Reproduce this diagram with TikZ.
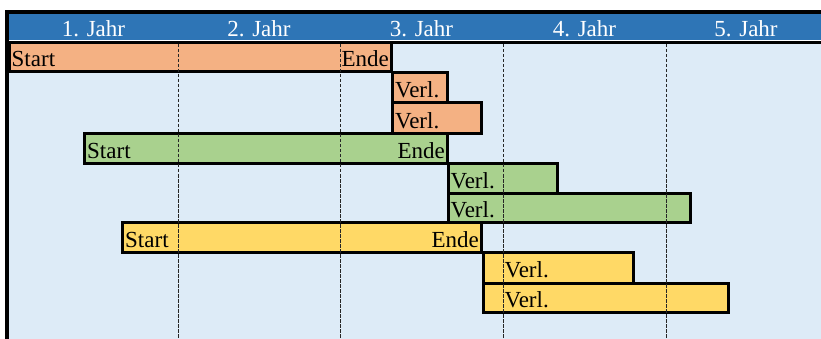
\documentclass[tikz,border=0pt]{standalone}
\usepackage{fontspec}
\setmainfont{Liberation Serif}
\usepackage{xcolor}
\definecolor{headblue}{HTML}{2E75B6}
\definecolor{paleblue}{HTML}{DDEBF7}
\definecolor{barorange}{HTML}{F4B183}
\definecolor{bargreen}{HTML}{A9D18E}
\definecolor{baryellow}{HTML}{FFD966}
\usetikzlibrary{positioning}

\begin{document}
\begin{tikzpicture}[
  x=1pt, y=-1pt,
  bar/.style={rectangle, draw=black, line width=3pt, inner sep=0pt, outer sep=0pt},
  lbl/.style={inner xsep=2.5pt, inner ysep=0pt, yshift=-2pt,
              font=\fontsize{23}{26}\selectfont},
  head/.style={lbl, text=white},
  gridline/.style={draw=black!85, line width=0.9pt, dash pattern=on 3.5pt off 1.5pt},
]
\useasboundingbox (0,0) rectangle (821,339);

% background and year header
\fill[paleblue] (9,44) rectangle (821,339);
\fill[headblue] (9,14) rectangle (821,40);
\draw[line width=2.5pt] (9,42.5) -- (821,42.5);

\foreach \i/\xc in {1/93.5, 2/259, 3/421.5, 4/584.5, 5/746}
  \node[head] (jahr\i) at (\xc,27) {\i. Jahr};

% bars: name/colour/left/right/top/bottom
\foreach \nm/\cl/\xa/\xb/\ya/\yb in {
    orMain/barorange/9/391.5/42.5/71.5,
    orVerlA/barorange/392.5/447.5/72.5/103,
    orVerlB/barorange/392.5/481/103/134,
    grMain/bargreen/84.5/447.5/134/163.5,
    grVerlA/bargreen/448/557.5/163.5/193,
    grVerlB/bargreen/448/690/193/222.5,
    geMain/baryellow/122.5/481.5/222.5/252.5,
    geVerlA/baryellow/483/633.5/252.5/283,
    geVerlB/baryellow/483/728.5/283/312}
  \node[bar, fill=\cl, minimum width={(\xb-\xa)*1pt}, minimum height={(\yb-\ya)*1pt}]
    (\nm) at ({(\xa+\xb)/2},{(\ya+\yb)/2}) {};

% year boundaries
\foreach \xg in {178, 340, 503, 666}
  \draw[gridline] (\xg,44) -- (\xg,339);

% bar texts
\node[lbl, anchor=west] (orStart) at (orMain.west) {Start};
\node[lbl, anchor=east] (orEnde)  at (orMain.east) {Ende};
\node[lbl, anchor=west] (orVerlAt) at (orVerlA.west) {Verl.};
\node[lbl, anchor=west] (orVerlBt) at (orVerlB.west) {Verl.};

\node[lbl, anchor=west] (grStart) at (grMain.west) {Start};
\node[lbl, anchor=east] (grEnde)  at (grMain.east) {Ende};
\node[lbl, anchor=west] (grVerlAt) at (grVerlA.west) {Verl.};
\node[lbl, anchor=west] (grVerlBt) at (grVerlB.west) {Verl.};

\node[lbl, anchor=west] (geStart) at (geMain.west) {Start};
\node[lbl, anchor=east] (geEnde)  at (geMain.east) {Ende};
\node[lbl, anchor=west] (geVerlAt) at ([xshift=19pt]geVerlA.west) {Verl.};
\node[lbl, anchor=west] (geVerlBt) at ([xshift=19pt]geVerlB.west) {Verl.};

% outer frame
\draw[line width=4pt] (7,339) -- (7,12) -- (821,12);
\end{tikzpicture}
\end{document}
